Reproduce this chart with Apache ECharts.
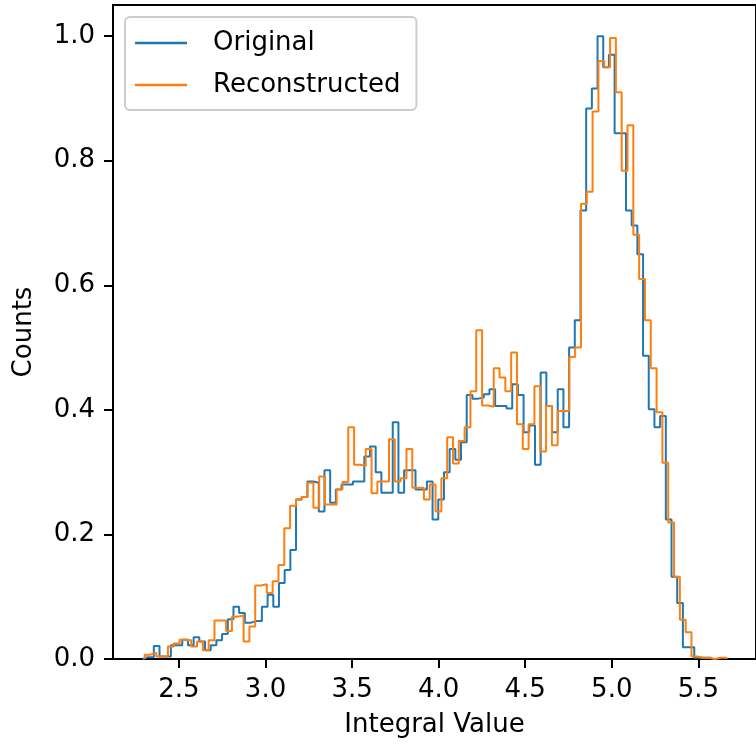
<!DOCTYPE html>
<html>
<head>
<meta charset="utf-8">
<script src="https://cdn.jsdelivr.net/npm/echarts@6/dist/echarts.min.js"></script>
<style>
  html, body { margin: 0; padding: 0; background: #fff; }
  #chart { width: 756px; height: 745px; }
</style>
</head>
<body>
<div id="chart"></div>
<script>
// ---- data ----
const binCount = 100;
const originalRange = [2.289, 5.575];
const reconRange = [2.302, 5.662];

const originalCounts = [
  0.003, 0.003, 0.021, 0.004, 0.004, 0.022, 0.022, 0.031, 0.022, 0.035,
  0.028, 0.014, 0.022, 0.030, 0.040, 0.064, 0.084, 0.074, 0.058, 0.061,
  0.061, 0.084, 0.103, 0.084, 0.122, 0.143, 0.175, 0.256, 0.260, 0.285,
  0.283, 0.237, 0.303, 0.251, 0.272, 0.280, 0.280, 0.285, 0.285, 0.325,
  0.341, 0.300, 0.267, 0.267, 0.380, 0.267, 0.303, 0.303, 0.272, 0.272,
  0.285, 0.224, 0.256, 0.300, 0.337, 0.320, 0.348, 0.424, 0.418, 0.420,
  0.425, 0.433, 0.406, 0.406, 0.402, 0.441, 0.424, 0.364, 0.375, 0.312,
  0.460, 0.406, 0.364, 0.433, 0.372, 0.500, 0.544, 0.720, 0.884, 0.916,
  1.000, 0.950, 0.970, 0.844, 0.844, 0.720, 0.696, 0.650, 0.487, 0.401,
  0.372, 0.390, 0.224, 0.132, 0.090, 0.019, 0.019, 0.002, 0.002, 0.002
];

const reconCounts = [
  0.007, 0.010, 0.004, 0.004, 0.020, 0.025, 0.031, 0.030, 0.020, 0.028,
  0.014, 0.030, 0.062, 0.062, 0.045, 0.068, 0.070, 0.028, 0.052, 0.118,
  0.120, 0.106, 0.125, 0.151, 0.210, 0.246, 0.256, 0.260, 0.283, 0.243,
  0.293, 0.248, 0.248, 0.272, 0.284, 0.372, 0.312, 0.310, 0.337, 0.266,
  0.285, 0.285, 0.353, 0.285, 0.290, 0.337, 0.275, 0.275, 0.256, 0.280,
  0.237, 0.290, 0.356, 0.314, 0.350, 0.372, 0.430, 0.528, 0.407, 0.405,
  0.467, 0.452, 0.430, 0.492, 0.377, 0.337, 0.377, 0.438, 0.333, 0.406,
  0.343, 0.398, 0.398, 0.485, 0.500, 0.731, 0.750, 0.879, 0.960, 0.950,
  0.997, 0.910, 0.784, 0.857, 0.681, 0.610, 0.544, 0.467, 0.396, 0.315,
  0.219, 0.132, 0.063, 0.043, 0.004, 0.002, 0.002, 0.000, 0.002, 0.002
];

const xTicks = [2.5, 3.0, 3.5, 4.0, 4.5, 5.0, 5.5];
const yTicks = [0.0, 0.2, 0.4, 0.6, 0.8, 1.0];
const seriesNames = ['Original', 'Reconstructed'];

// ---- build step outlines (matplotlib histtype='step') ----
function stepOutline(counts, range) {
  const w = (range[1] - range[0]) / counts.length;
  const pts = [[range[0], 0]];
  for (let i = 0; i < counts.length; i++) {
    const x0 = range[0] + i * w, x1 = range[0] + (i + 1) * w;
    pts.push([x0, counts[i]]);
    pts.push([x1, counts[i]]);
  }
  pts.push([range[1], 0]);
  return pts;
}

const FONT = 'DejaVu Sans';
const chart = echarts.init(document.getElementById('chart'), null, { renderer: 'canvas' });
chart.setOption({
  animation: false,
  backgroundColor: '#ffffff',
  grid: {
    left: 113, top: 5, right: -5, bottom: 86,
    show: true, borderColor: '#000', borderWidth: 2, backgroundColor: 'transparent'
  },
  legend: {
    left: 125, top: 17, orient: 'vertical',
    icon: 'rect', itemWidth: 52, itemHeight: 2.5, itemGap: 12,
    padding: [11, 16, 10, 10],
    backgroundColor: 'rgba(255,255,255,0.8)',
    borderColor: '#cccccc', borderWidth: 2, borderRadius: 5,
    textStyle: { fontSize: 26, fontFamily: FONT, color: '#000', padding: [0, 0, 0, 21], lineHeight: 30 },
    data: seriesNames
  },
  xAxis: {
    type: 'value', min: 2.119, max: 5.833,
    name: 'Integral Value', nameLocation: 'middle', nameGap: 53,
    nameTextStyle: { fontSize: 26, fontFamily: FONT, color: '#000' },
    axisLine: { show: true, onZero: false, lineStyle: { color: '#000', width: 2 } },
    axisTick: { show: true, length: 9, lineStyle: { color: '#000', width: 2 }, customValues: xTicks },
    axisLabel: { fontSize: 26, fontFamily: FONT, color: '#000', margin: 18, customValues: xTicks,
                 formatter: v => v.toFixed(1) },
    splitLine: { show: false }
  },
  yAxis: {
    type: 'value', min: 0, max: 1.05,
    name: 'Counts', nameLocation: 'middle', nameGap: 76,
    nameTextStyle: { fontSize: 26, fontFamily: FONT, color: '#000' },
    axisLine: { show: true, lineStyle: { color: '#000', width: 2 } },
    axisTick: { show: true, length: 9, lineStyle: { color: '#000', width: 2 }, customValues: yTicks },
    axisLabel: { fontSize: 26, fontFamily: FONT, color: '#000', margin: 18, customValues: yTicks,
                 formatter: v => v.toFixed(1) },
    splitLine: { show: false }
  },
  series: [
    {
      name: seriesNames[0], type: 'line', data: stepOutline(originalCounts, originalRange),
      symbol: 'none', color: '#1f77b4', lineStyle: { color: '#1f77b4', width: 2 }, clip: true
    },
    {
      name: seriesNames[1], type: 'line', data: stepOutline(reconCounts, reconRange),
      symbol: 'none', color: '#ff7f0e', lineStyle: { color: '#ff7f0e', width: 2 }, clip: true
    }
  ]
});
</script>
</body>
</html>
